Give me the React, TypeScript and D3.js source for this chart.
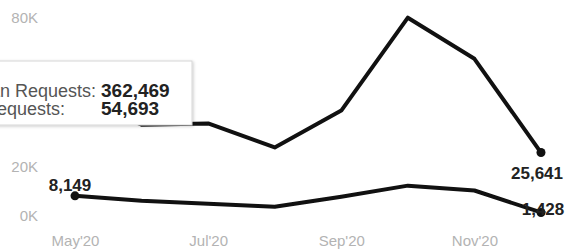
import React, { useEffect, useRef } from "react";
import * as d3 from "d3";

const months = ["May'20", "Jun'20", "Jul'20", "Aug'20", "Sep'20", "Oct'20", "Nov'20", "Dec'20"];
const humanRequests = [48608, 36900, 37420, 27690, 42580, 80120, 63510, 25641];
const botRequests = [8149, 6120, 4930, 3710, 7790, 12270, 10296, 1428];
// 40K and 60K sit behind the tooltip, so only the visible ticks are drawn
const yTicks = [0, 20000, 80000];
const xTickLabels = ["May'20", "Jul'20", "Sep'20", "Nov'20"];
const tooltipRows = [
  { label: "Human Requests:", value: d3.sum(humanRequests) },
  { label: "Bot Requests:", value: d3.sum(botRequests) }
];

const FONT = "'Liberation Sans', Arial, sans-serif";

export default function App() {
  const ref = useRef<SVGSVGElement>(null);

  useEffect(() => {
    const width = 569;
    const height = 250;

    const svg = d3.select(ref.current);
    svg.selectAll("*").remove();
    svg.attr("width", width).attr("height", height);

    const x = d3.scalePoint<string>().domain(months).range([75, 541]);
    const y = d3.scaleLinear().domain([0, 80000]).range([216, 18]);

    // y axis (labels only)
    const yAxis = svg
      .append("g")
      .attr("transform", "translate(39,0)")
      .call(
        d3
          .axisLeft(y)
          .tickValues(yTicks)
          .tickSize(0)
          .tickPadding(1)
          .tickFormat(d => `${(d as number) / 1000}K`)
      );
    yAxis.select(".domain").remove();
    yAxis
      .selectAll("text")
      .attr("fill", "#b3b3b3")
      .style("font-family", FONT)
      .style("font-size", "15px");

    // x axis (labels only)
    const xAxis = svg
      .append("g")
      .attr("transform", "translate(0,231)")
      .call(d3.axisBottom(x).tickValues(xTickLabels).tickSize(0).tickPadding(4));
    xAxis.select(".domain").remove();
    xAxis
      .selectAll("text")
      .attr("fill", "#b3b3b3")
      .style("font-family", FONT)
      .style("font-size", "15px");

    const line = d3
      .line<number>()
      .x((_, i) => x(months[i]) as number)
      .y(d => y(d));

    [humanRequests, botRequests].forEach(series => {
      svg
        .append("path")
        .datum(series)
        .attr("d", line)
        .attr("fill", "none")
        .attr("stroke", "#111")
        .attr("stroke-width", 4)
        .attr("stroke-linejoin", "round")
        .attr("stroke-linecap", "round");

      const ends = [0, series.length - 1];
      svg
        .selectAll(null)
        .data(ends)
        .join("circle")
        .attr("cx", i => x(months[i]) as number)
        .attr("cy", i => y(series[i]))
        .attr("r", 4.5)
        .attr("fill", "#111");
    });

    const fmt = d3.format(",");
    const last = months.length - 1;
    // point labels
    const labels = [
      { v: botRequests[0], m: months[0], dx: -5, dy: -5 },
      { v: humanRequests[last], m: months[last], dx: -4, dy: 26 },
      { v: botRequests[last], m: months[last], dx: 2, dy: 3 }
    ];
    svg
      .selectAll(".pt-label")
      .data(labels)
      .join("text")
      .attr("class", "pt-label")
      .attr("x", d => (x(d.m) as number) + d.dx)
      .attr("y", d => y(d.v) + d.dy)
      .attr("text-anchor", "middle")
      .attr("fill", "#222")
      .style("font-family", FONT)
      .style("font-size", "17px")
      .style("font-weight", "bold")
      .text(d => fmt(d.v));

    // tooltip
    const defs = svg.append("defs");
    const f = defs.append("filter").attr("id", "shadow").attr("x", "-20%").attr("y", "-20%").attr("width", "140%").attr("height", "140%");
    f.append("feDropShadow").attr("dx", 1).attr("dy", 1).attr("stdDeviation", 1.5).attr("flood-color", "#000").attr("flood-opacity", 0.2);

    const tip = svg.append("g");
    tip
      .append("rect")
      .attr("x", -60)
      .attr("y", 61)
      .attr("width", 252)
      .attr("height", 64)
      .attr("fill", "#fff")
      .attr("stroke", "#d6d6d6")
      .attr("filter", "url(#shadow)");

    const rows = tip
      .selectAll("g.row")
      .data(tooltipRows)
      .join("g")
      .attr("class", "row")
      .attr("transform", (_, i) => `translate(0,${97 + i * 18})`);
    rows
      .append("text")
      .attr("x", -48)
      .attr("fill", "#555")
      .style("font-family", FONT)
      .style("font-size", "18px")
      .text(d => d.label);
    rows
      .append("text")
      .attr("x", 101)
      .attr("fill", "#222")
      .style("font-family", FONT)
      .style("font-size", "19px")
      .style("font-weight", "bold")
      .text(d => fmt(d.value));
  }, []);

  return (
    <svg
      ref={ref}
      style={{ position: "absolute", left: 0, top: 0, background: "#fff" }}
    ></svg>
  );
}
